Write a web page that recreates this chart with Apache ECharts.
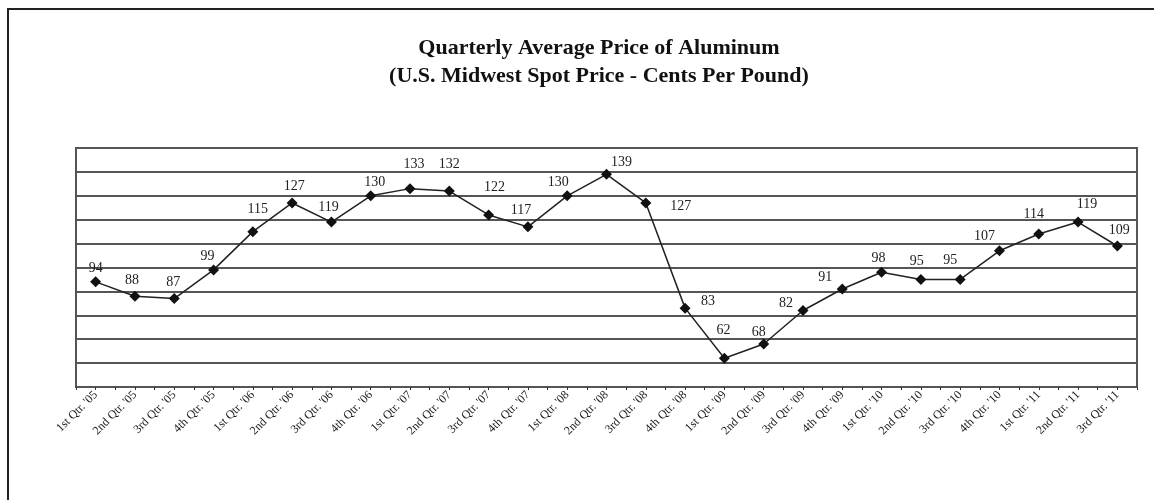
<!DOCTYPE html>
<html>
<head>
<meta charset="utf-8">
<script src="https://cdn.jsdelivr.net/npm/echarts@6/dist/echarts.min.js"></script>
<style>
html,body{margin:0;padding:0;background:#fff;}
#chart{width:1154px;height:500px;}
</style>
</head>
<body>
<div id="chart"></div>
<script>
const titleText = "Quarterly Average Price of Aluminum\n(U.S. Midwest Spot Price - Cents Per Pound)";
const categories = [
  "1st Qtr. '05","2nd Qtr. '05","3rd Qtr. '05","4th Qtr. '05",
  "1st Qtr. '06","2nd Qtr. '06","3rd Qtr. '06","4th Qtr. '06",
  "1st Qtr. '07","2nd Qtr. '07","3rd Qtr. '07","4th Qtr. '07",
  "1st Qtr. '08","2nd Qtr. '08","3rd Qtr. '08","4th Qtr. '08",
  "1st Qtr. '09","2nd Qtr. '09","3rd Qtr. '09","4th Qtr. '09",
  "1st Qtr. '10","2nd Qtr. '10","3rd Qtr. '10","4th Qtr. '10",
  "1st Qtr. '11","2nd Qtr. '11","3rd Qtr. '11"
];
const prices = [94,88,87,99,115,127,119,130,133,132,122,117,130,139,127,83,62,68,82,91,98,95,95,107,114,119,109];
const yMin = 50, yMax = 150, yStep = 10;

// label nudges (style only), relative to marker centre
const labelNudge = [
  [0,-14],[-3,-16],[-1,-16],[-6,-14],[5,-22],[2,-17],[-3,-15],[4,-13],[4,-24],[0,-27],
  [6,-28],[-7,-17],[-9,-13],[15,-12],[35,3],[23,-7],[-1,-28],[-5,-12],[-17,-7],[-17,-12],
  [-3,-14],[-4,-18],[-10,-19],[-15,-14],[-5,-20],[9,-18],[2,-16]
];

const serif = "'Liberation Serif','Times New Roman',serif";
const chart = echarts.init(document.getElementById('chart'), null, {renderer:'canvas'});

const seriesData = prices.map((v,i)=>({
  value: v,
  label: {offset: labelNudge[i]}
}));

chart.setOption({
  animation: false,
  backgroundColor: '#fff',
  title: {
    text: titleText,
    left: 594, top: 29, textAlign: 'center',
    textStyle: {fontFamily: serif, fontWeight: 'bold', fontSize: 22, lineHeight: 28, color: '#111'}
  },
  graphic: [{
    type: 'rect', silent: true, z: 100,
    shape: {x: 8, y: 9, width: 1200, height: 600},
    style: {fill: 'none', stroke: '#222', lineWidth: 2}
  }],
  grid: {left: 76, right: 17, top: 148, bottom: 113, show: true, borderColor: '#555', borderWidth: 2, backgroundColor: 'transparent'},
  xAxis: [{
    type: 'category', data: categories, boundaryGap: true, position: 'bottom',
    axisLine: {show: true, lineStyle: {color: '#555', width: 2}},
    axisTick: {show: true, interval: 0, length: 3, inside: false, lineStyle: {color: '#333', width: 1}},
    axisLabel: {interval: 0, rotate: 45, fontFamily: serif, fontSize: 12, color: '#222', margin: 6},
    splitLine: {show: false}
  },{
    type: 'category', data: categories, boundaryGap: true, position: 'bottom', gridIndex: 0,
    axisLine: {show: false},
    axisTick: {show: true, interval: 0, length: 3, alignWithLabel: true, lineStyle: {color: '#333', width: 1}},
    axisLabel: {show: false},
    splitLine: {show: false}
  }],
  yAxis: {
    type: 'value', min: yMin, max: yMax, interval: yStep,
    axisLine: {show: true, lineStyle: {color: '#555', width: 2}},
    axisTick: {show: false},
    axisLabel: {show: false},
    splitLine: {show: true, lineStyle: {color: '#555', width: 2}}
  },
  series: [{
    type: 'line', data: seriesData, xAxisIndex: 0,
    symbol: 'diamond', symbolSize: 11,
    itemStyle: {color: '#111'},
    lineStyle: {color: '#222', width: 1.5},
    label: {show: true, position: 'inside', fontFamily: serif, fontSize: 14, color: '#222'},
    z: 5
  }]
});
</script>
</body>
</html>
